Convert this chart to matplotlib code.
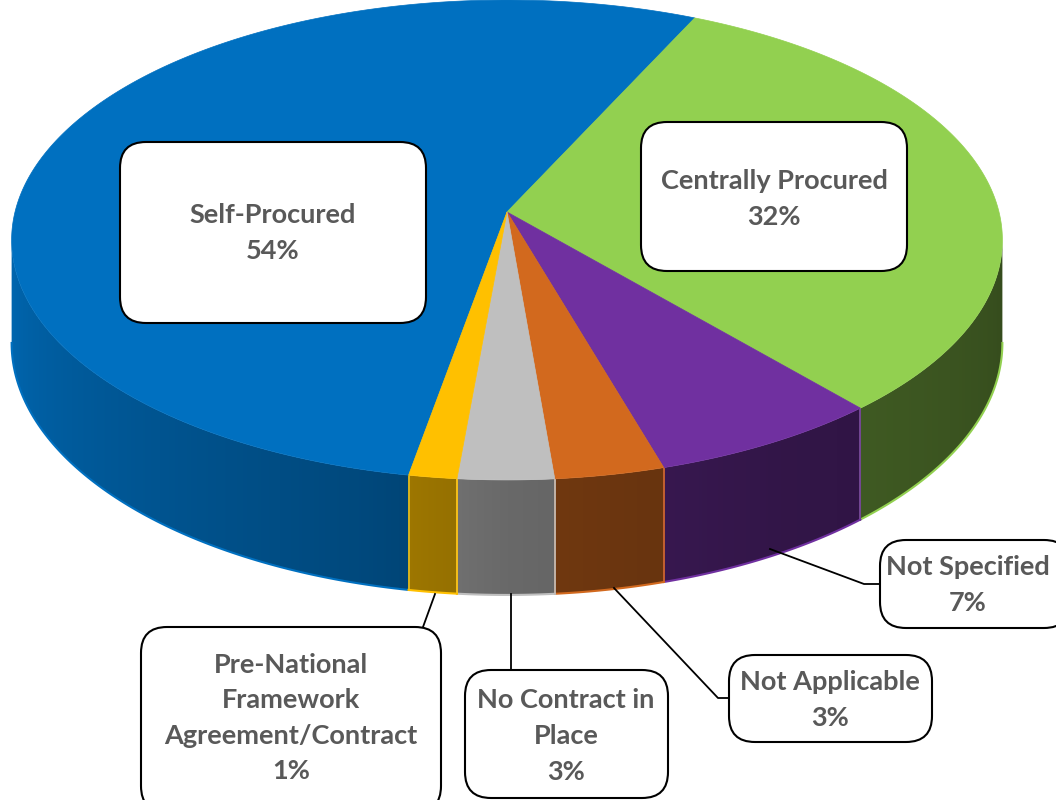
import matplotlib.pyplot as plt
import numpy as np
from matplotlib.colors import to_rgb
from matplotlib.patches import Polygon, FancyBboxPatch

# Data (percent shares, clockwise order as drawn)
categories = ["Self-Procured", "Centrally Procured", "Not Specified",
              "Not Applicable", "No Contract in\nPlace",
              "Pre-National\nFramework\nAgreement/Contract"]
values = [54.1, 31.7, 6.8, 3.2, 2.8, 1.4]
colors = ["#0070C0", "#92D050", "#7030A0", "#D2691E", "#BFBFBF", "#FFC000"]

# 3D pie geometry in pixel space
CX, CY = 507, 212
RX, RY = 492, 236.7
P = 0.1166
DEPTH = 101.6
START = 190.2

# label boxes (x0, y0, x1, y1), text centres and leader lines
boxes = [(120, 142, 426, 323), (641, 122, 907, 271), (880, 540, 1070, 628),
         (729, 655, 932, 742), (465, 670, 668, 798), (141, 627, 441, 812)]
label_centers = [(273, 233), (774, 199), (968, 585), (830, 700), (566, 736), (291, 718)]
leaders = [None, None,
           [(770, 549), (864, 584), (880, 584)],
           [(614, 588), (718, 698), (729, 698)],
           [(511, 594), (511, 670)],
           [(435, 594), (423, 627)]]


def proj(theta, depth=0.0):
    t = np.radians(theta)
    s = 1.0 / (1.0 + P * np.cos(t))
    return CX + RX * np.sin(t) * s, CY - RY * np.cos(t) * s + depth * s


def shade(theta):
    return np.interp(theta, [90, 150, 180, 195, 270], [0.35, 0.45, 0.55, 0.65, 0.95])


fig = plt.figure(figsize=(10.56, 8), dpi=100)
ax = fig.add_axes([0, 0, 1, 1])
ax.set_xlim(0, 1056)
ax.set_ylim(800, 0)
ax.set_aspect("equal")
ax.axis("off")

total = sum(values)
spans = [v / total * 360 for v in values]
starts = START + np.concatenate([[0], np.cumsum(spans)[:-1]])

vis_lo = np.degrees(np.arccos(-P))
vis_hi = 360 - vis_lo

# side wall: gradient image clipped to the visible wall outline
ts = np.linspace(vis_lo, vis_hi, 400)
xt, yt = proj(ts)
xb, yb = proj(ts[::-1], DEPTH)
wall = Polygon(np.column_stack([np.r_[xt, xb], np.r_[yt, yb]]), closed=True,
               fc="none", ec="none")
ax.add_patch(wall)

cols = np.arange(1056) + 0.5
theta_col = np.interp(cols, xt[::-1], ts[::-1])
img = np.ones((2, 1056, 3))
for a0, sp, col in zip(starts, spans, colors):
    for off in (0, -360):
        m = (theta_col >= a0 + off) & (theta_col < a0 + sp + off)
        img[:, m, :] = np.outer(shade(theta_col[m]), to_rgb(col))
im = ax.imshow(img, extent=(0, 1056, 800, 0), aspect="auto", zorder=1,
               interpolation="nearest")
im.set_clip_path(wall)

for a0, sp, col in zip(starts, spans, colors):
    a1 = a0 + sp
    for off in (0, -360):
        lo, hi = max(a0 + off, vis_lo), min(a1 + off, vis_hi)
        if hi <= lo:
            continue
        tt = np.linspace(lo, hi, 100)
        bx, by = proj(tt, DEPTH)
        ax.plot(bx, by, color=col, lw=1.5, zorder=2)
        for t in (lo, hi):
            if vis_lo < t < vis_hi:
                x0, y0 = proj(t)
                x1, y1 = proj(t, DEPTH)
                ax.plot([x0, x1], [y0, y1], color=col, lw=1.2, zorder=2)

# top face
for a0, sp, col in zip(starts, spans, colors):
    tt = np.linspace(a0, a0 + sp, max(3, int(sp * 2)))
    x, y = proj(tt)
    pts = np.column_stack([np.r_[CX, x], np.r_[CY, y]])
    ax.add_patch(Polygon(pts, closed=True, fc=col, ec=col, lw=0.5, zorder=3))

# labels
for name, v, (x0, y0, x1, y1), (tx, ty), ld in zip(categories, values, boxes,
                                                  label_centers, leaders):
    if ld is not None:
        lx, ly = zip(*ld)
        ax.plot(lx, ly, color="black", lw=1.3, zorder=4)
    ax.add_patch(FancyBboxPatch((x0, y0), x1 - x0, y1 - y0,
                                boxstyle="round,pad=0,rounding_size=26",
                                fc="white", ec="black", lw=1.5, zorder=5))
    ax.text(tx, ty, f"{name}\n{round(v)}%", ha="center", va="center",
            fontsize=19.5, fontweight="bold", family="Lato", color="#595959",
            linespacing=1.58, zorder=6)

fig.savefig("out.png", dpi=100)
